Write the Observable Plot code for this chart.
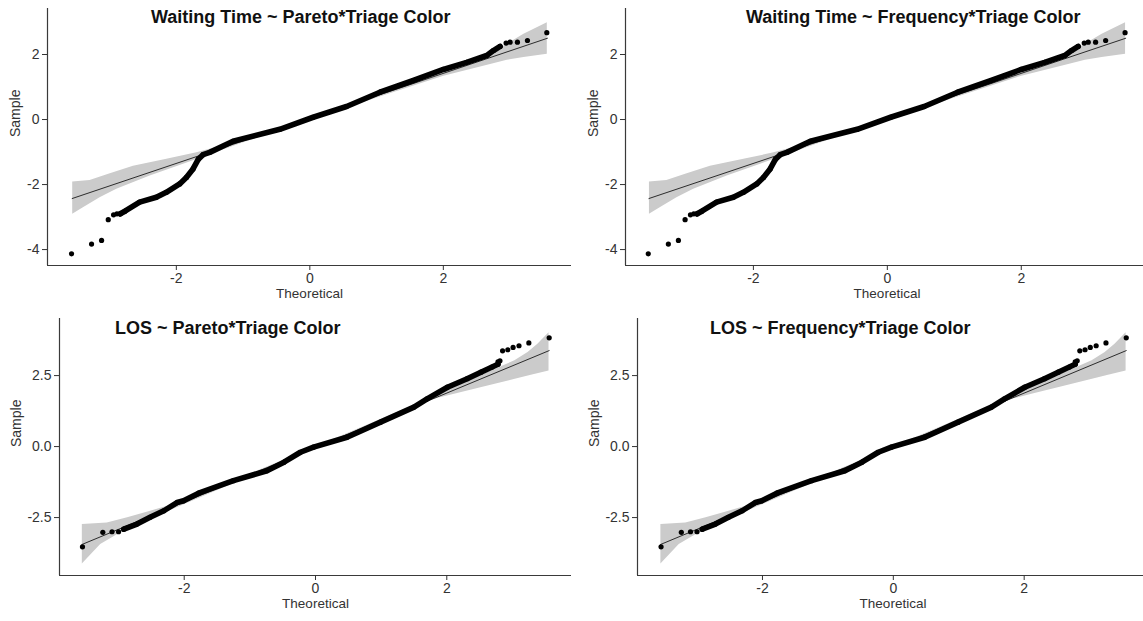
<!DOCTYPE html>
<html>
<head>
<meta charset="utf-8">
<script src="https://cdn.jsdelivr.net/npm/d3@7"></script>
<script src="https://cdn.jsdelivr.net/npm/@observablehq/plot@0.6"></script>
<style>
  html, body { margin: 0; padding: 0; background: #fff; }
  #chart { position: relative; width: 1143px; height: 621px; overflow: hidden;
           font-family: "Liberation Sans", Arial, sans-serif; background: #fff; }
  .panel { position: absolute; }
  .panel [aria-label$="tick label"] { font-size: 14px; }
  .title { position: absolute; font-weight: bold; font-size: 18px; line-height: 18px;
           color: #111; white-space: nowrap; }
</style>
</head>
<body>
<div id="chart"></div>
<script>
// ---- Waiting time residuals (shared by the Pareto and Frequency models) ----
// isolated points in the tails
const waitingTailTheoretical = [-3.57, -3.27, -3.12, -3.02, -2.94, -2.89, -2.84, 2.94, 3.00, 3.11, 3.26, 3.55];
const waitingTailSample      = [-4.13, -3.83, -3.72, -3.08, -2.93, -2.90, -2.90, 2.35, 2.38, 2.38, 2.43, 2.67];
// densely packed run of quantiles
const waitingRunTheoretical = [-2.84, -2.77, -2.55, -2.30, -2.15, -1.95, -1.85, -1.75, -1.67, -1.60, -1.50, -1.15, -0.45, 0.05, 0.55, 1.05, 1.55, 2.00, 2.35, 2.65, 2.75, 2.85];
const waitingRunSample      = [-2.90, -2.82, -2.54, -2.39, -2.24, -1.98, -1.78, -1.52, -1.22, -1.08, -1.01, -0.67, -0.30, 0.07, 0.40, 0.84, 1.20, 1.54, 1.76, 1.97, 2.12, 2.25];
// reference line
const waitingLineTheoretical = [-3.56, 3.56];
const waitingLineSample      = [-2.43, 2.50];
// confidence band edges
const waitingBandUpperX = [-3.56, -3.30, -3.02, -2.65, -2.15, -1.70, -1.00, 0.00, 1.00, 2.00, 2.70, 2.95, 3.20, 3.55];
const waitingBandUpperY = [-1.91, -1.86, -1.67, -1.42, -1.21, -1.01, -0.62, 0.08, 0.78, 1.50, 2.02, 2.33, 2.64, 2.99];
const waitingBandLowerX = [-3.56, -3.40, -3.15, -2.90, -2.40, -1.90, -1.00, 0.00, 1.00, 2.00, 2.70, 2.95, 3.20, 3.55];
const waitingBandLowerY = [-2.90, -2.70, -2.39, -2.13, -1.72, -1.36, -0.70, -0.01, 0.68, 1.35, 1.71, 1.84, 1.92, 2.02];

// ---- Length-of-stay residuals (shared by the Pareto and Frequency models) ----
const losTailTheoretical = [-3.55, -3.24, -3.10, -3.00, 2.78, 2.81, 2.85, 2.93, 3.01, 3.10, 3.25, 3.56];
const losTailSample      = [-3.53, -3.02, -3.00, -3.00, 2.98, 3.02, 3.37, 3.41, 3.49, 3.55, 3.65, 3.83];
const losRunTheoretical = [-2.92, -2.72, -2.52, -2.31, -2.11, -2.01, -1.78, -1.25, -0.74, -0.48, -0.23, -0.03, 0.48, 0.99, 1.50, 1.70, 2.01, 2.31, 2.52, 2.69, 2.78];
const losRunSample      = [-2.91, -2.73, -2.49, -2.26, -1.97, -1.91, -1.64, -1.20, -0.85, -0.55, -0.20, -0.02, 0.33, 0.86, 1.39, 1.68, 2.09, 2.39, 2.62, 2.80, 2.90];
const losLineTheoretical = [-3.56, 3.56];
const losLineSample      = [-3.45, 3.38];
const losBandUpperX = [-3.56, -3.18, -2.87, -2.52, -2.26, -1.50, -0.50, 0.50, 1.50, 2.36, 3.03, 3.23, 3.38, 3.55];
const losBandUpperY = [-2.73, -2.67, -2.49, -2.26, -2.08, -1.43, -0.47, 0.50, 1.47, 2.36, 3.04, 3.33, 3.62, 4.03];
const losBandLowerX = [-3.56, -3.28, -3.02, -2.72, -2.00, -1.00, 0.00, 1.00, 1.80, 2.11, 2.62, 3.02, 3.28, 3.55];
const losBandLowerY = [-4.12, -3.43, -3.08, -2.73, -2.02, -1.04, -0.07, 0.90, 1.68, 1.86, 2.15, 2.38, 2.53, 2.68];

// axis ticks
const xTicks = [-2, 0, 2];
const waitingYTicks = [-4, -2, 0, 2];
const losYTicks = [-2.5, 0, 2.5];

// panel titles
const titles = [
  "Waiting Time ~ Pareto*Triage Color",
  "Waiting Time ~ Frequency*Triage Color",
  "LOS ~ Pareto*Triage Color",
  "LOS ~ Frequency*Triage Color"
];

const zip = (xs, ys) => xs.map((x, i) => ({x, y: ys[i]}));

const waiting = {
  tail: zip(waitingTailTheoretical, waitingTailSample),
  run: zip(waitingRunTheoretical, waitingRunSample),
  line: zip(waitingLineTheoretical, waitingLineSample),
  band: zip(waitingBandUpperX, waitingBandUpperY).concat(zip(waitingBandLowerX, waitingBandLowerY).reverse()),
  yDomain: [-4.49, 3.415],
  yTicks: waitingYTicks,
  fmt: d => String(d)
};
const los = {
  tail: zip(losTailTheoretical, losTailSample),
  run: zip(losRunTheoretical, losRunSample),
  line: zip(losLineTheoretical, losLineSample),
  band: zip(losBandUpperX, losBandUpperY).concat(zip(losBandLowerX, losBandLowerY).reverse()),
  yDomain: [-4.54, 4.51],
  yTicks: losYTicks,
  fmt: d => d.toFixed(1)
};

// layout of the 2 x 2 grid
const panels = [
  {title: titles[0], data: waiting, left: 0,   top: 0,   width: 575, ml: 47, xDomain: [-3.93, 3.92], sampleDx: -32, titleLeft: 151, titleTop: 8},
  {title: titles[1], data: waiting, left: 571, top: 0,   width: 581, ml: 54, xDomain: [-3.91, 3.90], sampleDx: -32, titleLeft: 746, titleTop: 8},
  {title: titles[2], data: los,     left: 0,   top: 310, width: 575, ml: 59, xDomain: [-3.90, 3.90], sampleDx: -43, titleLeft: 115, titleTop: 319},
  {title: titles[3], data: los,     left: 571, top: 310, width: 581, ml: 66, xDomain: [-3.91, 3.90], sampleDx: -43, titleLeft: 710, titleTop: 319}
];

const chart = document.getElementById("chart");

for (const p of panels) {
  const d = p.data;
  const svg = Plot.plot({
    width: p.width,
    height: 310,
    marginLeft: p.ml,
    marginRight: 4,
    marginTop: 8,
    marginBottom: 45,
    x: {domain: p.xDomain},
    y: {domain: d.yDomain},
    style: {fontFamily: '"Liberation Sans", Arial, sans-serif', fontSize: "14px", color: "#333", background: "transparent", overflow: "visible"},
    marks: [
      Plot.line(d.band, {x: "x", y: "y", fill: "#cbcbcb", stroke: "none"}),
      Plot.line(d.line, {x: "x", y: "y", stroke: "#1a1a1a", strokeWidth: 0.9}),
      Plot.line(d.run, {x: "x", y: "y", stroke: "#000", strokeWidth: 5.6, strokeLinecap: "round", strokeLinejoin: "round"}),
      Plot.dot(d.run.concat(d.tail), {x: "x", y: "y", r: 2.6, fill: "#000", stroke: "none"}),
      Plot.ruleX([p.xDomain[0]], {stroke: "#3a3a3a", strokeWidth: 1.2}),
      Plot.ruleY([d.yDomain[0]], {stroke: "#3a3a3a", strokeWidth: 1.2}),
      Plot.axisX({ticks: xTicks, tickSize: 5, tickPadding: 3, label: null, fontSize: 14, tickFormat: v => String(v)}),
      Plot.axisY({ticks: d.yTicks, tickSize: 5, tickPadding: 3, label: null, fontSize: 14, tickFormat: d.fmt}),
      Plot.text(["Theoretical"], {text: t => t, frameAnchor: "bottom", dy: 32, fontSize: 13.5, fill: "#333"}),
      Plot.text(["Sample"], {text: t => t, frameAnchor: "left", dx: p.sampleDx, rotate: -90, fontSize: 14, fill: "#333"})
    ]
  });
  svg.classList.add("panel");
  svg.style.left = p.left + "px";
  svg.style.top = p.top + "px";
  chart.appendChild(svg);

  const t = document.createElement("div");
  t.className = "title";
  t.textContent = p.title;
  t.style.left = p.titleLeft + "px";
  t.style.top = p.titleTop + "px";
  chart.appendChild(t);
}
</script>
</body>
</html>
